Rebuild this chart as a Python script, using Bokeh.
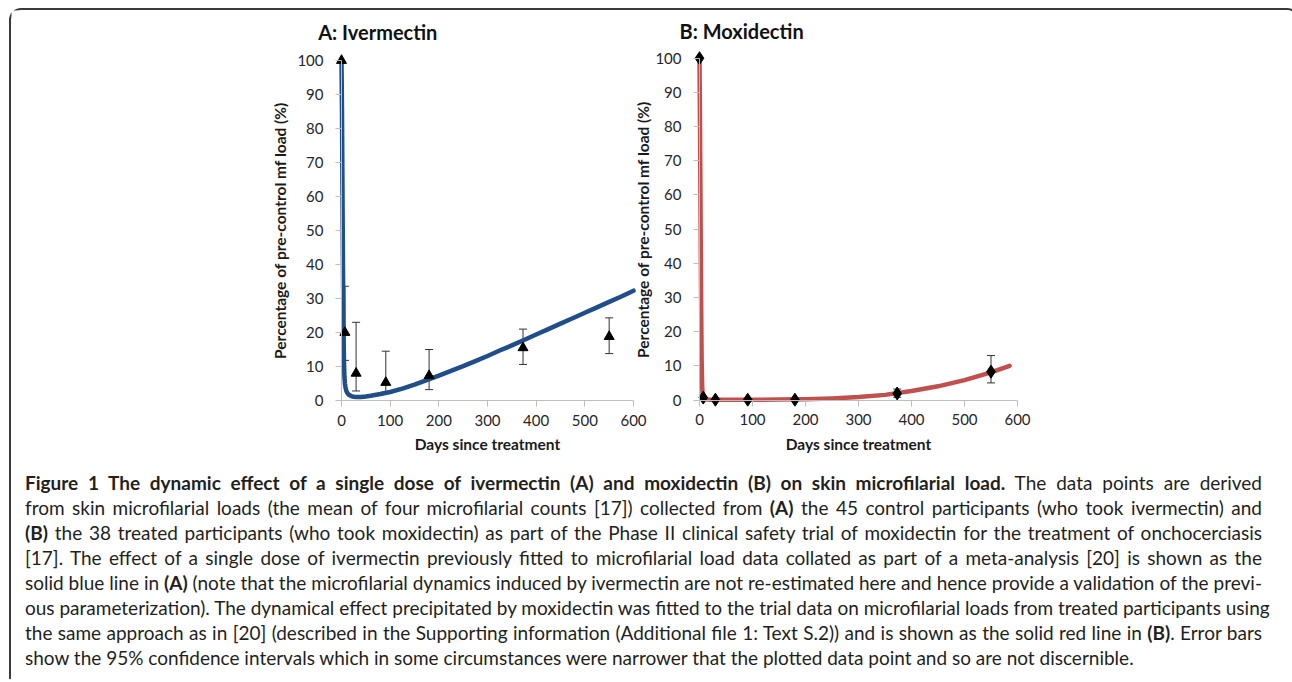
from bokeh.plotting import figure
from bokeh.models import (Range1d, LinearAxis, FixedTicker, ColumnDataSource, Whisker,
                          TeeHead, Label, Div)
from bokeh.layouts import column
from bokeh.embed import file_html
from bokeh.resources import INLINE

# ---------------- data ----------------
x_ticks = [0, 100, 200, 300, 400, 500, 600]
y_ticks = [0, 10, 20, 30, 40, 50, 60, 70, 80, 90, 100]

# Panel A: ivermectin (observed, triangles)
iver_days = [0, 7, 30, 91, 180, 373, 550]
iver_pct = [100, 20.0, 8.0, 5.3, 7.3, 15.5, 18.8]
iver_err_days = [7, 30, 91, 180, 373, 550]
iver_err_lo = [11.8, 2.8, 2.5, 3.2, 10.6, 13.8]
iver_err_hi = [33.6, 23.0, 14.5, 15.0, 21.0, 24.3]

# Panel A: fitted ivermectin curve
iver_fit_days = [0, 1, 2, 3, 4, 5, 6, 7, 8, 10, 12, 15, 20, 25, 30, 40, 50, 60, 80, 100,
                 125, 150, 175, 200, 225, 250, 275, 300, 325, 350, 375, 400, 425, 450,
                 475, 500, 525, 550, 575, 600]
iver_fit_pct = [100, 85, 62, 40, 22, 12, 7, 5, 4, 2.8, 2.2, 1.7, 1.3, 1.1, 1.0, 1.05, 1.2,
                1.4, 1.9, 2.5, 3.5, 4.7, 6.0, 7.3, 8.7, 10.1, 11.6, 13.1, 14.7, 16.2,
                17.8, 19.4, 21.0, 22.6, 24.2, 25.8, 27.4, 29.0, 30.6, 32.3]

# Panel B: moxidectin (observed, diamonds)
moxi_days = [0, 7, 30, 91, 180, 373, 550]
moxi_pct = [100, 0.7, 0.1, 0.1, 0.1, 1.9, 8.3]
moxi_err_days = [373, 550]
moxi_err_lo = [0.8, 5.0]
moxi_err_hi = [3.2, 13.0]

# Panel B: fitted moxidectin curve
moxi_fit_days = [0, 1, 2, 3, 4, 5, 6, 7, 8, 10, 20, 50, 100, 150, 200, 250, 300, 350,
                 400, 450, 500, 550, 585]
moxi_fit_pct = [100, 80, 55, 30, 12, 4, 1.5, 0.7, 0.4, 0.2, 0.1, 0.08, 0.08, 0.12, 0.22,
                0.45, 0.85, 1.5, 2.65, 4.0, 5.8, 8.1, 10.0]

# ---------------- styling ----------------
FONT = "Lato"
BLUE = "#1f4e89"
RED = "#c0504d"
AXIS_GRAY = "#bdbdbd"
TXT = "#262626"

W, H = 1276, 444
# pixel anchors (figure-relative) for each panel
A_x0, A_x600 = 330.0, 622.0
B_x0, B_x600 = 688.0, 1006.0
A_y0, A_y100 = 390.0, 50.0
B_y0, B_y100 = 389.5, 47.7


def rng(p0, p1, v0, v1, lo, hi):
    k = (p1 - p0) / (v1 - v0)
    return Range1d(v0 + (lo - p0) / k, v0 + (hi - p0) / k)


p = figure(width=W, height=H, output_backend="svg", toolbar_location=None,
           x_axis_type=None, y_axis_type=None, min_border=0,
           min_border_left=0, min_border_right=0, min_border_top=0, min_border_bottom=0,
           outline_line_color=None,
           x_range=rng(A_x0, A_x600, 0, 600, 0, W),
           y_range=rng(H - A_y0, H - A_y100, 0, 100, 0, H))
p.title.visible = False
p.extra_x_ranges = {"B": rng(B_x0, B_x600, 0, 600, 0, W)}
p.extra_y_ranges = {"B": rng(H - B_y0, H - B_y100, 0, 100, 0, H)}


def style_axis(ax, is_x, ylab_standoff=7):
    ax.axis_line_color = AXIS_GRAY
    ax.axis_line_width = 1
    ax.major_tick_line_color = AXIS_GRAY
    ax.major_tick_out = 6
    ax.major_tick_in = 0
    ax.minor_tick_line_color = None
    ax.major_label_text_font = FONT
    ax.major_label_text_font_size = "15px"
    ax.major_label_text_color = TXT
    ax.axis_label_text_font = FONT
    ax.axis_label_text_font_size = "15.5px"
    ax.axis_label_text_font_style = "bold"
    ax.axis_label_text_color = "#1a1a1a"
    if is_x:
        ax.major_label_standoff = 8
        ax.axis_label_standoff = 6
    else:
        ax.major_label_standoff = 12
        ax.axis_label_standoff = ylab_standoff


for rn, ystand in [("default", 5), ("B", 0)]:
    xa = LinearAxis(ticker=FixedTicker(ticks=x_ticks), bounds=(0, 600), fixed_location=0,
                    axis_label="Days since treatment", x_range_name=rn, y_range_name=rn)
    style_axis(xa, True)
    p.add_layout(xa, "below")
    ya = LinearAxis(ticker=FixedTicker(ticks=y_ticks), bounds=(0, 100), fixed_location=0,
                    axis_label="Percentage of pre-control mf load (%)",
                    x_range_name=rn, y_range_name=rn)
    style_axis(ya, False, ystand)
    p.add_layout(ya, "left")

# Panel A
p.line(iver_fit_days, iver_fit_pct, line_color=BLUE, line_width=4.5, line_join="round",
       line_cap="round")
srcA = ColumnDataSource(dict(x=iver_err_days, lo=iver_err_lo, hi=iver_err_hi))
wA = Whisker(base="x", lower="lo", upper="hi", source=srcA, line_color="#333333",
             line_width=1,
             lower_head=TeeHead(size=8, line_color="#333333", line_width=1),
             upper_head=TeeHead(size=8, line_color="#333333", line_width=1))
p.add_layout(wA)
p.scatter(iver_days, iver_pct, marker="triangle", size=10, fill_color="black",
          line_color="black")

# Panel B
p.line(moxi_fit_days, moxi_fit_pct, line_color=RED, line_width=4.5, line_join="round",
       line_cap="round", x_range_name="B", y_range_name="B")
srcB = ColumnDataSource(dict(x=moxi_err_days, lo=moxi_err_lo, hi=moxi_err_hi))
wB = Whisker(base="x", lower="lo", upper="hi", source=srcB, line_color="#333333",
             line_width=1, x_range_name="B", y_range_name="B",
             lower_head=TeeHead(size=8, line_color="#333333", line_width=1),
             upper_head=TeeHead(size=8, line_color="#333333", line_width=1))
p.add_layout(wB)
p.scatter(moxi_days, moxi_pct, marker="diamond", size=13, fill_color="black",
          line_color="black", x_range_name="B", y_range_name="B")

# Panel titles
p.add_layout(Label(x=-48, y=108.5, text="A: Ivermectin", text_font=FONT,
                   text_font_size="20px", text_font_style="bold", text_color="#111111",
                   text_align="left", text_baseline="middle"))
p.add_layout(Label(x=-37.7, y=107.9, text="B: Moxidectin", text_font=FONT,
                   text_font_size="20px", text_font_style="bold", text_color="#111111",
                   text_align="left", text_baseline="middle", x_range_name="B",
                   y_range_name="B"))

# ---------------- caption ----------------
cap_lines = [
    "<b>Figure 1 The dynamic effect of a single dose of ivermectin (A) and moxidectin (B) on skin microfilarial load.</b> The data points are derived",
    "from skin microfilarial loads (the mean of four microfilarial counts [17]) collected from <b>(A)</b> the 45 control participants (who took ivermectin) and",
    "<b>(B)</b> the 38 treated participants (who took moxidectin) as part of the Phase II clinical safety trial of moxidectin for the treatment of onchocerciasis",
    "[17]. The effect of a single dose of ivermectin previously fitted to microfilarial load data collated as part of a meta-analysis [20] is shown as the",
    "solid blue line in <b>(A)</b> (note that the microfilarial dynamics induced by ivermectin are not re-estimated here and hence provide a validation of the previ-",
    "ous parameterization). The dynamical effect precipitated by moxidectin was fitted to the trial data on microfilarial loads from treated participants using",
    "the same approach as in [20] (described in the Supporting information (Additional file 1: Text S.2)) and is shown as the solid red line in <b>(B)</b>. Error bars",
    "show the 95% confidence intervals which in some circumstances were narrower that the plotted data point and so are not discernible.",
]
parts = []
for i, ln in enumerate(cap_lines):
    last = i == len(cap_lines) - 1
    al = "left" if last else "justify"
    parts.append(f'<div style="white-space:nowrap;text-align:{al};text-align-last:{al};">{ln}</div>')
cap_html = (f'<div style="font-family:Lato;font-size:19px;line-height:25px;color:#231f20;'
            f'padding:11px 0 0 9px;width:1246px;">' + "".join(parts) + "</div>")
cap = Div(text=cap_html, width=W, height=215)

layout = column(p, cap, styles={"border": "2px solid #3a3a3a", "border-bottom": "none",
                                "border-radius": "12px 12px 0 0",
                                "margin-left": "9px", "margin-top": "8px"})

open("out.html", "w").write(file_html(layout, INLINE))
